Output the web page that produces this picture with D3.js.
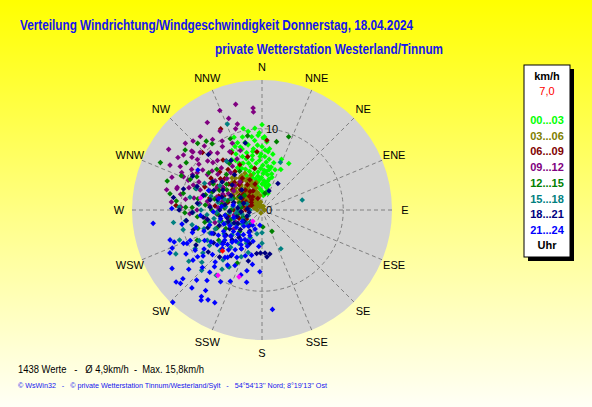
<!DOCTYPE html>
<html>
<head>
<meta charset="utf-8">
<script src="https://cdn.jsdelivr.net/npm/d3@7"></script>
<style>
  html, body { margin: 0; padding: 0; }
  body { width: 592px; height: 407px; overflow: hidden; font-family: "Liberation Sans", Arial, sans-serif; }
</style>
</head>
<body>
<div id="chart"></div>
<script>
// wind readings as [direction in degrees, speed in km/h], one array per 3-hour slot
const h00_03 = [[355,10.1],[345,9.3],[354,8.6],[350,9.8],[358,9.5],[2,9.0],[340,8.8],[337,8.5],[342,7.9],[348,8.2],[352,7.6],[356,8.0],[0,7.8],[4,8.4],[6,7.2],[3,6.6],[359,6.9],[355,7.1],[350,6.8],[345,7.3],[340,7.0],[335,7.6],[332,6.9],[338,6.2],[344,6.0],[349,6.3],[353,5.8],[357,6.1],[1,5.5],[5,5.9],[8,6.3],[10,5.0],[12,5.4],[15,4.6],[17,4.2],[13,3.9],[9,4.4],[6,4.8],[2,4.5],[358,5.1],[354,4.7],[350,5.2],[346,5.5],[342,5.0],[338,5.4],[334,5.7],[330,6.0],[336,4.6],[343,4.2],[348,3.9],[352,3.5],[356,3.8],[0,3.2],[4,3.6],[8,3.0],[12,2.8],[16,2.5],[20,2.2],[10,2.0],[5,1.8],[0,2.3],[355,2.6],[350,2.9],[345,3.2],[340,3.5],[21,6.7],[30,6.6],[25,5.5],[18,5.2],[14,6.0],[11,7.0],[7,7.6],[347,10.3],[0,10.5],[352,9.1],[339,9.6],[333,8.2],[1,8.9],[357,9.2],[3,7.4],[8,5.4],[346,8.6],[351,7.3],[343,6.6],[347,4.6],[353,4.2],[359,4.0],[3,4.9],[7,3.4],[11,3.6],[15,3.2],[358,6.6],[334,6.4],[329,7.2],[341,8.2]];
const h03_06 = [[320,5.1],[325,4.8],[330,4.5],[335,4.2],[340,3.8],[315,4.6],[310,4.2],[318,3.9],[328,3.6],[338,3.2],[345,2.8],[322,3.0],[312,3.4],[305,3.8],[300,3.2],[308,2.6],[316,2.4],[326,2.2],[336,2.0],[344,1.6],[320,1.5],[310,1.8],[300,2.0],[295,2.5],[330,1.2],[340,0.8],[350,1.0],[315,0.9],[305,1.2],[290,1.5],[325,0.5],[0,0.4],[320,4.0],[332,4.0],[327,4.4],[313,5.0],[322,5.5],[335,5.0],[342,4.5],[348,3.5],[303,4.4],[298,4.0],[311,2.9],[318,2.0],[328,2.8],[333,3.4],[340,2.5],[346,2.2],[352,1.8],[300,0.8],[285,1.0],[280,2.0],[290,3.0],[324,3.4],[316,3.2],[321,4.4],[326,3.0],[331,2.5],[319,2.7],[314,3.7],[309,4.8],[323,2.6],[329,4.9],[337,3.6],[343,3.0],[317,5.4],[312,1.3],[334,1.7],[345,0.6],[20,0.5],[90,0.3],[200,0.4],[270,0.6],[305,2.3],[296,3.4]];
const h06_09 = [[333,11.2],[4,8.6],[273,10.6],[314,10.2],[334,6.2],[355,7.2],[219,2.4],[320,6.5],[310,6.0],[300,5.5],[290,5.0],[325,5.8],[315,4.8],[305,4.4],[295,4.0],[285,3.6],[330,3.6],[320,3.2],[310,3.0],[300,2.8],[290,2.6],[280,2.4],[335,2.6],[325,2.0],[315,1.8],[305,1.6],[295,1.4],[340,1.5],[318,4.2],[308,5.2],[298,6.2],[288,5.6],[278,4.6],[270,3.5],[265,2.5],[328,4.6],[338,4.0],[345,3.3],[312,7.0],[302,7.4],[292,7.6],[322,7.8],[332,8.0],[283,6.6],[275,5.8],[260,4.2],[250,3.0],[240,2.2],[345,6.8],[350,5.2],[313,3.6],[323,4.3],[303,3.3],[327,2.7],[317,2.3],[297,2.2],[307,6.4],[283,4.3],[271,2.0],[286,1.7]];
const h09_12 = [[346,13.4],[355,12.1],[355,12.6],[337,13.3],[328,12.7],[303,13.7],[302,12.2],[311,12.5],[310,11.3],[313,10.4],[310,11.1],[330,9.8],[322,8.9],[308,10.1],[298,11.4],[295,10.9],[292,9.8],[284,10.8],[293,10.5],[285,10.8],[307,10.8],[304,8.8],[297,7.2],[314,8.4],[331,8.2],[276,7.7],[265,5.6],[267,8.9],[318,9.5],[325,10.6],[320,11.8],[315,12.0],[305,11.8],[300,10.0],[290,9.0],[288,8.0],[294,8.5],[300,9.2],[306,9.6],[312,9.0],[318,8.2],[324,7.5],[316,7.2],[308,7.8],[302,6.8],[296,6.2],[290,6.8],[284,7.5],[280,8.5],[278,9.5],[286,5.8],[292,5.2],[300,5.6],[306,6.0],[312,5.8],[320,6.0],[326,6.5],[334,7.0],[340,7.8],[336,9.0],[342,10.5],[332,11.0],[328,9.2],[318,10.6],[296,12.6],[290,11.8],[282,12.0],[275,11.2],[272,10.0],[270,8.0],[275,6.5],[282,5.0],[288,4.2],[296,4.6],[304,4.2],[312,4.5],[255,6.0],[250,4.5],[260,3.5],[230,5.0],[340,12.0],[344,11.0],[309,7.0],[303,8.0],[297,9.6],[287,9.4],[281,10.2],[279,6.8],[273,5.4],[262,7.0],[257,4.4],[246,3.6],[236,4.2],[322,4.4]];
const h12_15 = [[295,13.8],[20,9.6],[12,8.6],[321,10.9],[316,11.4],[323,10.2],[336,9.6],[349,9.3],[293,10.8],[293,9.6],[282,9.9],[272,8.6],[268,9.5],[205,7.2],[155,2.9],[177,2.1],[10,2.1],[272,9.4],[254,8.2],[280,8.0],[285,7.2],[290,6.5],[295,5.8],[300,5.0],[275,7.0],[270,6.2],[265,5.5],[278,5.0],[285,4.4],[292,3.8],[300,3.2],[310,2.8],[270,3.8],[262,4.5],[255,5.2],[248,6.0],[258,7.2],[264,8.0],[288,8.6],[297,9.0],[305,8.0],[312,7.5],[302,11.0],[308,12.0],[287,12.2],[280,11.5],[276,10.6],[283,6.0],[273,4.6],[260,3.0],[250,2.5],[240,3.5],[235,6.5],[245,8.8],[298,6.8],[306,5.4],[315,6.2],[325,7.0],[330,5.5],[277,2.6],[287,2.9],[253,4.0],[243,5.0],[226,3.8]];
const h15_18 = [[243,11.9],[338,11.4],[76,5.1],[21,6.3],[154,5.3],[240,9.5],[234,9.0],[214,8.8],[210,8.1],[204,6.3],[203,3.7],[180,2.8],[246,7.0],[241,7.7],[258,8.8],[229,9.8],[211,8.1],[180,4.1],[324,7.4],[280,9.0],[270,7.5],[265,6.8],[260,6.0],[255,5.4],[250,4.8],[245,4.2],[240,3.6],[235,3.0],[230,2.5],[225,2.0],[265,4.0],[270,3.0],[275,4.5],[280,5.5],[285,6.5],[275,7.8],[268,8.5],[262,9.5],[252,7.5],[248,6.2],[238,5.5],[232,6.5],[226,7.2],[220,6.0],[215,5.0],[222,4.2],[230,4.8],[236,7.8],[244,8.6],[256,10.0],[250,10.8],[262,11.0],[272,10.2],[288,8.5],[295,7.8],[300,6.0],[290,4.0],[282,2.8],[258,2.5],[248,1.8],[270,1.5],[292,2.0],[205,4.5],[198,5.5],[192,3.0],[215,9.8],[225,10.5],[235,11.0],[218,7.8],[263,3.2],[253,3.6],[243,2.6],[277,3.6],[286,4.8],[267,5.6],[257,6.6]];
const h18_21 = [[31,3.8],[176,5.3],[170,5.5],[182,5.3],[174,5.8],[187,5.4],[316,9.5],[346,8.5],[254,8.8],[260,6.8],[290,8.5],[281,6.5],[270,5.2],[263,7.3],[297,5.4],[300,7.0],[305,6.0],[310,4.8],[295,4.2],[285,3.6],[275,3.0],[265,2.6],[255,3.2],[245,3.8],[240,4.6],[235,5.4],[250,5.6],[258,4.4],[268,4.0],[278,4.6],[288,5.2],[292,6.4],[284,7.4],[276,8.0],[268,8.6],[262,9.4],[252,7.0],[244,6.6],[236,7.2],[230,6.2],[225,5.2],[220,4.4],[228,3.6],[238,2.6],[248,2.0],[260,1.6],[275,1.8],[290,2.4],[300,3.0],[315,3.5],[322,5.5],[328,7.2],[270,10.2],[278,11.0],[285,10.0],[296,9.5],[242,9.2],[232,8.4],[222,7.8],[214,6.8],[208,5.4],[200,4.4],[210,3.0],[195,6.5],[20,2.5],[273,6.4],[283,5.6],[261,5.2],[251,4.4],[241,3.4]];
const h21_24 = [[263,13.5],[271,11.1],[250,11.5],[247,12.0],[252,11.9],[247,10.5],[246,10.1],[247,9.6],[239,9.6],[234,9.8],[234,10.5],[231,11.6],[228,13.5],[229,12.9],[230,13.8],[222,12.9],[223,11.8],[215,13.0],[214,13.4],[215,12.1],[211,12.9],[207,12.8],[224,15.8],[192,9.1],[194,7.7],[174,12.3],[220,9.1],[222,8.6],[218,7.4],[216,7.2],[193,5.7],[208,6.6],[225,6.0],[254,6.7],[188,1.9],[220,10.0],[182,7.6],[214,5.9],[231,5.9],[210,4.2],[200,2.5],[205,3.5],[210,3.2],[215,4.5],[220,5.0],[225,4.2],[230,5.0],[235,5.6],[240,6.2],[245,6.8],[238,7.4],[232,7.0],[226,6.8],[220,6.4],[214,6.6],[208,5.4],[202,4.8],[196,4.0],[200,6.0],[206,7.6],[212,8.0],[228,8.2],[236,8.6],[242,8.0],[250,7.6],[255,8.4],[258,5.2],[250,5.0],[244,4.4],[236,3.8],[228,3.0],[220,2.6],[212,2.2],[240,2.8],[255,3.6],[262,4.6],[268,6.0],[265,7.6],[275,5.0],[280,3.6],[232,9.2],[226,10.2],[240,10.8],[218,11.0],[210,10.2],[204,9.6],[198,8.4],[190,6.8],[185,4.5],[245,12.5],[237,13.2],[252,9.0],[260,10.0],[302,9.3],[290,7.0],[285,5.5],[223,5.4],[217,3.8],[233,4.4],[229,6.4],[211,5.0],[205,4.2],[241,5.4]];
const extraPoints = [[214,9.7],[199,8.7],[281,7.7],[219,1.8]];
const currentPoint = [[224,7.0]];

const slotLabels = ["00...03","03...06","06...09","09...12","12...15","15...18","18...21","21...24"];
const slotData = [h00_03,h03_06,h06_09,h09_12,h12_15,h15_18,h18_21,h21_24];
const slotColors = ["#00ff00","#808000","#800000","#800080","#008000","#008080","#000080","#0000ff"];
const directions = ["N","NNE","NE","ENE","E","ESE","SE","SSE","S","SSW","SW","WSW","W","WNW","NW","NNW"];
const rings = [0,10];
const maxSpeed = 16;
const currentSpeed = "7,0";
const summaryText = "1438 Werte   -   \u00d8 4,9km/h  -  Max. 15,8km/h";
const footerText = "\u00a9 WsWin32   -   \u00a9 private Wetterstation Tinnum/Westerland/Sylt   -   54\u00b054'13'' Nord; 8\u00b019'13'' Ost";

const width = 592, height = 407;
const center = {x: 262, y: 210};
const outerRadius = 130;

const svg = d3.select("#chart").append("svg")
    .attr("width", width)
    .attr("height", height);

const grad = svg.append("defs").append("linearGradient")
    .attr("id","bg").attr("x1",0).attr("y1",0).attr("x2",0).attr("y2",1);
grad.append("stop").attr("offset","0%").attr("stop-color","#ffff00");
grad.append("stop").attr("offset","55%").attr("stop-color","#ffff8c");
grad.append("stop").attr("offset","100%").attr("stop-color","#fffff6");

svg.append("rect").attr("width",width).attr("height",height).attr("fill","url(#bg)");

// titles
svg.append("text")
    .attr("x",20).attr("y",30)
    .attr("font-size",14).attr("font-weight","bold").attr("fill","#1414ee")
    .attr("textLength",393).attr("lengthAdjust","spacingAndGlyphs")
    .text("Verteilung Windrichtung/Windgeschwindigkeit  Donnerstag, 18.04.2024");
svg.append("text")
    .attr("x",215).attr("y",54)
    .attr("font-size",14).attr("font-weight","bold").attr("fill","#1414ee")
    .attr("textLength",228).attr("lengthAdjust","spacingAndGlyphs")
    .text("private Wetterstation Westerland/Tinnum");

const r = d3.scaleLinear().domain([0,maxSpeed]).range([0,outerRadius]);
const plot = svg.append("g").attr("transform","translate(" + center.x + "," + center.y + ")");

plot.append("circle").attr("r",outerRadius).attr("fill","#d3d3d3");

const angle = d3.scaleLinear().domain([0,360]).range([0,2*Math.PI]);

plot.selectAll(".spoke")
    .data(directions)
    .join("line")
    .attr("class","spoke")
    .attr("x1",0).attr("y1",0)
    .attr("x2",(d,i)=>d3.pointRadial(angle(i*22.5), outerRadius)[0])
    .attr("y2",(d,i)=>d3.pointRadial(angle(i*22.5), outerRadius)[1])
    .attr("stroke","#808080").attr("stroke-width",1).attr("stroke-dasharray","4,3");

plot.selectAll(".ring")
    .data(rings.filter(v=>v>0))
    .join("circle")
    .attr("class","ring")
    .attr("r",d=>r(d))
    .attr("fill","none")
    .attr("stroke","#808080").attr("stroke-width",1).attr("stroke-dasharray","4,3");

plot.selectAll(".dirLabel")
    .data(directions)
    .join("text")
    .attr("class","dirLabel")
    .attr("x",(d,i)=>d3.pointRadial(angle(i*22.5), outerRadius+13)[0])
    .attr("y",(d,i)=>d3.pointRadial(angle(i*22.5), outerRadius+13)[1]+4)
    .attr("text-anchor","middle")
    .attr("font-size",11).attr("fill","#000")
    .text(d=>d);

// points, oldest slot first
const diamond = "M0,-2.8L2.8,0L0,2.8L-2.8,0Z";
const pos = d=>d3.pointRadial(angle(d[0]), r(d[1]));

slotData.forEach((points, i)=>{
    plot.append("g").selectAll("path")
        .data(points)
        .join("path")
        .attr("d",diamond)
        .attr("transform",d=>"translate(" + pos(d) + ")")
        .attr("fill",slotColors[i]);
});
plot.append("g").selectAll("path")
    .data(extraPoints)
    .join("path")
    .attr("d",diamond)
    .attr("transform",d=>"translate(" + pos(d) + ")")
    .attr("fill","#ff00ff");
plot.append("g").selectAll("path")
    .data(currentPoint)
    .join("path")
    .attr("d",diamond)
    .attr("transform",d=>"translate(" + pos(d) + ")")
    .attr("fill","#ff0000");

plot.selectAll(".ringLabel")
    .data(rings)
    .join("text")
    .attr("class","ringLabel")
    .attr("x",4)
    .attr("y",d=>-r(d)+4)
    .attr("font-size",11).attr("fill","#000")
    .text(d=>d);

// legend
const legend = svg.append("g").attr("transform","translate(524,65)");
legend.append("rect").attr("x",4).attr("y",4).attr("width",46).attr("height",192).attr("fill","#000");
legend.append("rect").attr("x",0).attr("y",0).attr("width",46).attr("height",192)
    .attr("fill","#fff").attr("stroke","#000").attr("stroke-width",1);
legend.append("text").attr("x",23).attr("y",15).attr("text-anchor","middle")
    .attr("font-size",11).attr("font-weight","bold").attr("fill","#000").text("km/h");
legend.append("text").attr("x",23).attr("y",30).attr("text-anchor","middle")
    .attr("font-size",11).attr("fill","#ff0000").text(currentSpeed);
legend.selectAll(".slot")
    .data(slotLabels)
    .join("text")
    .attr("class","slot")
    .attr("x",23)
    .attr("y",(d,i)=>59 + i*15.7)
    .attr("text-anchor","middle")
    .attr("font-size",11).attr("font-weight","bold")
    .attr("fill",(d,i)=>slotColors[i])
    .text(d=>d);
legend.append("text").attr("x",23).attr("y",184).attr("text-anchor","middle")
    .attr("font-size",11).attr("font-weight","bold").attr("fill","#000").text("Uhr");

// bottom texts
svg.append("text").attr("x",18).attr("y",373)
    .attr("font-size",11).attr("fill","#000")
    .attr("textLength",186).attr("lengthAdjust","spacingAndGlyphs")
    .style("white-space","pre")
    .text(summaryText);
svg.append("text").attr("x",18).attr("y",388)
    .attr("font-size",8).attr("fill","#1414ee")
    .attr("textLength",309).attr("lengthAdjust","spacingAndGlyphs")
    .style("white-space","pre")
    .text(footerText);
</script>
</body>
</html>
